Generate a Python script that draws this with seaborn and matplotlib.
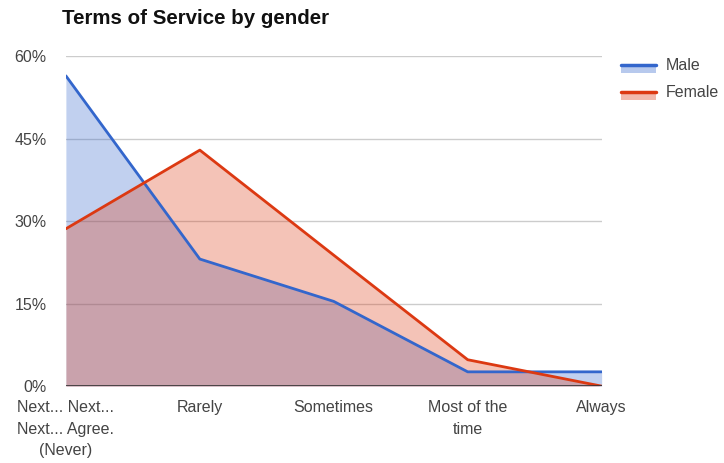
import numpy as np
import pandas as pd
import matplotlib
matplotlib.use("Agg")
import matplotlib.pyplot as plt
from matplotlib.patches import Rectangle
from matplotlib.lines import Line2D
import seaborn as sns

categories = ["Next... Next...\nNext... Agree.\n(Never)", "Rarely", "Sometimes",
              "Most of the\ntime", "Always"]
male = [56.4, 23.1, 15.4, 2.6, 2.6]
female = [28.6, 42.9, 23.8, 4.8, 0.0]
series = ["Male", "Female"]
colors = {"Male": "#3366cc", "Female": "#dc3912"}

sns.set_style("white")
plt.rcParams["font.family"] = ["Liberation Sans", "DejaVu Sans"]


class AreaHandler:
    # line on top, pale swatch beneath, like the google chart legend
    def legend_artist(self, legend, orig_handle, fontsize, handlebox):
        x0, y0 = handlebox.xdescent, handlebox.ydescent
        w, h = handlebox.width, handlebox.height
        c = orig_handle.get_color()
        tr = handlebox.get_transform()
        rect = Rectangle((x0, y0 - h * 0.25), w, h * 0.75, facecolor=c, alpha=0.35,
                         lw=0, transform=tr)
        line = Line2D([x0, x0 + w], [y0 + h * 0.5, y0 + h * 0.5], color=c, lw=2.5,
                      transform=tr)
        handlebox.add_artist(rect)
        handlebox.add_artist(line)
        return rect


x = np.arange(len(categories))
df = pd.DataFrame({
    "x": np.concatenate([x, x]),
    "value": male + female,
    "gender": ["Male"] * len(male) + ["Female"] * len(female),
})

fig = plt.figure(figsize=(7.24, 4.63), dpi=100)
ax = fig.add_axes([0.091, 0.166, 0.740, 0.713])

ax.fill_between(x, male, 0, color=colors["Male"], alpha=0.3, lw=0, zorder=2)
ax.fill_between(x, female, 0, color=colors["Female"], alpha=0.3, lw=0, zorder=2)
sns.lineplot(data=df, x="x", y="value", hue="gender", palette=colors,
             hue_order=series, lw=2, ax=ax, legend=False, zorder=3)

ax.set_xlim(0, len(categories) - 1)
ax.set_ylim(0, 60)
ax.set_yticks([0, 15, 30, 45, 60])
ax.set_yticklabels([f"{v}%" for v in [0, 15, 30, 45, 60]])
ax.set_xticks(x)
ax.set_xticklabels(categories, linespacing=1.55)
ax.tick_params(axis="both", length=0, labelsize=11.5, labelcolor="#444444")
ax.tick_params(axis="x", pad=10)
ax.tick_params(axis="y", pad=14)
ax.set_xlabel("")
ax.set_ylabel("")

for v in [15, 30, 45, 60]:
    ax.axhline(v, color="#cccccc", lw=1, zorder=1)
ax.axhline(0, color="#333333", lw=1.2, zorder=4)
for s in ax.spines.values():
    s.set_visible(False)

fig.text(0.086, 0.96, "Terms of Service by gender", fontsize=14.8, fontweight="bold",
         color="#111111", va="center", ha="left")

handles = [Line2D([0], [0], color=colors[g]) for g in series]
leg = fig.legend(handles, series, loc="upper left", bbox_to_anchor=(0.838, 0.905),
                 frameon=False, fontsize=11.5, handlelength=2.2, handletextpad=0.6,
                 labelspacing=0.75, handler_map={Line2D: AreaHandler()})
for t in leg.get_texts():
    t.set_color("#444444")

fig.savefig("out.png", dpi=100)
